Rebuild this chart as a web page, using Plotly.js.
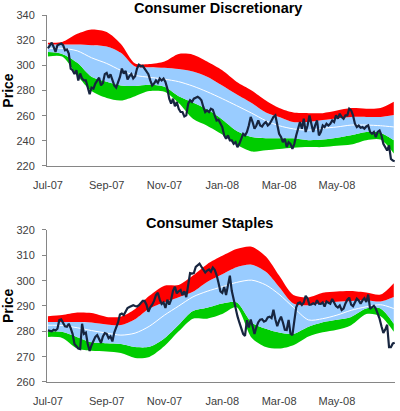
<!DOCTYPE html>
<html>
<head>
<meta charset="utf-8">
<script src="https://cdn.plot.ly/plotly-3.0.1.min.js"></script>
<style>html,body{margin:0;padding:0;background:#fff;}#chart{width:400px;height:411px;}</style>
</head>
<body>
<div id="chart"></div>
<script>
// ---- Data ----
const BAND_DATES = ['2007-07-01','2007-07-16','2007-08-01','2007-08-16','2007-09-01','2007-09-16','2007-10-01','2007-10-16','2007-11-01','2007-11-16','2007-12-01','2007-12-16','2008-01-01','2008-01-16','2008-02-01','2008-02-16','2008-03-01','2008-03-16','2008-04-01','2008-04-16','2008-05-01','2008-05-16','2008-06-01','2008-06-16','2008-06-30'];

const TICK_DATES = ['2007-07-01','2007-09-01','2007-11-01','2008-01-01','2008-03-01','2008-05-01'];
const TICK_LABELS = ['Jul-07','Sep-07','Nov-07','Jan-08','Mar-08','May-08'];

const PRICE_START = '2007-07-01';
const PRICE_STEP_DAYS = 2;

// Consumer Discretionary
const discUpperOuter = [318,318.5,325,328.5,326.5,317,301.5,301,303,309,308.5,303,296,287,280,272,266,262.5,262,262,264,266,265.5,266,271];
const discUpperInner = [316.5,316.5,316.5,316,315,310,299,298.5,298,297,295,291,284,277,270,262.5,259,255,255,256.5,258,259,259,259,260.5];
const discMiddle     = [313.5,313.5,311.5,306,301.5,296,292,290.5,289,287,283.5,279,273.5,268,262,256,252,249.5,248.5,250,251,252.5,252.5,252,251];
const discLowerInner = [310.5,309,302,291,287,284,283.5,284.5,283,275.5,270.5,265,257,248,243,242,242,242,240.5,241,242.5,244.5,247,246.5,240.5];
const discLowerOuter = [307,307,292,279.5,274,272,275.5,279.5,279,270,257.5,252,245,237,231.5,232.5,233.5,234.5,235,235,236,237,240.5,241,230];
const discPrice = [
313.4,316,318,314.7,310.7,316,316.9,317.4,316,312,
312.6,309.4,297.4,296.1,293,296.1,288,293.5,289.5,288,
288,281.5,277,282.3,281.5,285.5,288,290.2,284,286,
293,294,290,292.9,288.5,284,282.3,286,290.8,297.4,
293.5,295.6,288.7,291.3,293,289.5,291.3,297.4,300.5,299.3,
299.6,297.4,294.8,293,288,284,285.5,288,286,289.5,
288,289.5,286.8,281.5,273.5,269.5,273.5,267.4,270.9,265.5,
262.9,262.9,259.4,260.2,269.5,272.2,270.9,273.5,274.3,275,
274,272.2,266.9,262.9,264.2,262.9,265.5,264.7,260.2,256.2,
256.8,253.6,250.9,244.3,241.6,244.3,240.3,240.3,237.6,239,
235,237.6,241.6,245.6,244.3,247,252.2,259,254.9,249.6,
252.2,256.2,252.2,251.4,253.6,254.9,252.2,253.6,256.2,258.9,
260.2,253.6,245.6,243,239,241.6,235,239,237.6,233.6,
237.6,244.3,249.6,254.9,249.6,257.6,247,252.2,260.2,252.2,
247,252.2,256.2,244.3,247,252.2,250.9,253.6,252.2,253.6,
256.2,254.9,260.2,257.6,261.5,258.9,257.6,260.2,260.2,265.5,
264.2,260.2,253.6,250.9,252.2,250.4,250.9,249.6,251.4,252.2,
247,245.6,247,243,247,248.2,244.3,237.6,235,232.3,
236.3,225.6,224.3,223.8];

// Consumer Staples
const stapUpperOuter = [286,286.4,287.4,287.2,285.7,285.8,288.8,294,298,298.3,302,306.5,309.8,312.5,313.4,309.5,302,294.3,293.4,295.2,295.7,295.9,295.3,294.5,299];
const stapUpperInner = [283.7,283.7,283.7,283.5,282.7,282.5,284.8,289,291.5,293.5,295.6,299.5,302.5,305.3,306.3,303.5,297.5,291,290.3,291.3,291.7,292,292.3,291.8,293.6];
const stapMiddle     = [282.4,282.3,281.4,280.3,279.3,278.5,279.3,282,286.4,290,293.6,295.8,297.6,299.3,300.2,298.3,294.6,289.5,284.5,285,286.4,288.3,289.7,290.5,289];
const stapLowerInner = [280,279.8,277.7,275.7,275.3,275,273.8,273.9,277.3,282.6,288,289.3,291,291.5,283.5,281,279.5,279,281.8,283.6,284.6,285.7,289,289,283];
const stapLowerOuter = [277.8,277.4,273.2,272.3,272,271.4,269.5,269.9,274.2,280,285,285,286.8,289.5,277.5,273.8,273.2,274.5,278,279.6,280.6,282.4,286.8,286,279.8];
const stapPrice = [
280.4,280.2,280,280.6,280.3,281,284.4,284.7,283.3,282,
281.8,283,281.3,279,275,274,273.2,273,283,279,
279.5,275,272.3,274.5,276,277.8,278.5,276.8,275.4,278,
279.3,279,277.3,278,276,279.5,281.3,283.5,286.6,287,
286.4,288,289.2,289.6,290,290.3,290,289.8,290.3,291,
292,292,290.5,287.7,289.5,290.5,292,294.3,295.2,292.5,
290.8,291.4,289.2,292.5,290.5,292.5,296,297.6,295,295.8,
296.3,294.3,295.8,293.5,299,303,302.8,303,305.4,306,
306.7,305.5,304.2,303.2,304,304.4,303.5,305.2,304.3,302.2,
299.2,295.8,295.2,297.5,294.3,298.6,302,296,292.5,288.7,
286,283.5,281,279,278.2,284.4,281.5,284.7,282,279,
281.7,283.6,284.6,284.8,283.8,284.2,285.5,285.8,285.2,288.5,
284.8,282,284.2,285.8,283.5,280.6,280.5,284.5,279.1,278.5,
284,289.5,291.1,291.4,290.4,291.4,294,293,290.5,290.6,
291.1,290.6,292.3,290.9,290.8,291.4,289.8,291.8,291.3,290.9,
292.8,291.5,290,289.4,290.2,288.4,289,291,292.5,293.3,
290.5,289.9,291.4,292.9,292.2,290.9,292.2,293.1,291.6,294.5,
288.9,289.5,290.1,289,286.9,285,282,279.4,280.7,282.6,
273.8,273.8,275.2,275.5];

// ---- Styling ----
const RED = '#FF0000', BLUE = '#99CCFF', GREEN = '#00CC00', NAVY = '#17253F';
const DAY_MS = 86400000;

function bandTraces(xa, ya, lo2, lo1, mid, up1, up2, price) {
  const base = {x: BAND_DATES, xaxis: xa, yaxis: ya, mode: 'lines', hoverinfo: 'skip',
                line: {width: 0, shape: 'spline', smoothing: 0.8}};
  return [
    Object.assign({}, base, {y: lo2}),
    Object.assign({}, base, {y: lo1, fill: 'tonexty', fillcolor: GREEN}),
    Object.assign({}, base, {y: up1, fill: 'tonexty', fillcolor: BLUE}),
    Object.assign({}, base, {y: up2, fill: 'tonexty', fillcolor: RED}),
    {x: BAND_DATES, y: mid, xaxis: xa, yaxis: ya, mode: 'lines',
     line: {color: '#FFFFFF', width: 1, shape: 'spline', smoothing: 0.8}},
    {x0: PRICE_START, dx: PRICE_STEP_DAYS * DAY_MS, y: price, xaxis: xa, yaxis: ya, mode: 'lines',
     line: {color: NAVY, width: 2.2}}
  ];
}

const data = [].concat(
  bandTraces('x', 'y', discLowerOuter, discLowerInner, discMiddle, discUpperInner, discUpperOuter, discPrice),
  bandTraces('x2', 'y2', stapLowerOuter, stapLowerInner, stapMiddle, stapUpperInner, stapUpperOuter, stapPrice)
);

const X_RANGE = ['2007-06-30', '2008-07-01 07:00'];
const AXIS_LINE = '#868686';
const xCommon = {type: 'date', range: X_RANGE, tickvals: TICK_DATES, ticktext: TICK_LABELS,
  showgrid: false, zeroline: false, showline: true, linecolor: AXIS_LINE, linewidth: 1,
  ticks: 'outside', ticklen: 9, tickcolor: 'rgba(0,0,0,0)', fixedrange: true};
const yCommon = {showgrid: false, zeroline: false, showline: true, linecolor: AXIS_LINE, linewidth: 1,
  ticks: 'outside', ticklen: 4, tickcolor: AXIS_LINE, ticklabelstandoff: 5, fixedrange: true};

const TITLE_FONT = {family: 'Liberation Sans, Arial, sans-serif', size: 14.5, color: '#000000'};
const LABEL_FONT = {family: 'Liberation Sans, Arial, sans-serif', size: 14, color: '#000000'};

const layout = {
  width: 400, height: 411,
  margin: {l: 47, r: 5, t: 15, b: 29},
  paper_bgcolor: '#FFFFFF', plot_bgcolor: '#FFFFFF',
  showlegend: false,
  font: {family: 'Liberation Sans, Arial, sans-serif', size: 11, color: '#404040'},
  xaxis: Object.assign({}, xCommon, {anchor: 'y', domain: [0, 1]}),
  yaxis: Object.assign({}, yCommon, {anchor: 'x', domain: [0.5886, 1], range: [220, 340], dtick: 20}),
  xaxis2: Object.assign({}, xCommon, {anchor: 'y2', domain: [0, 1]}),
  yaxis2: Object.assign({}, yCommon, {anchor: 'x2', domain: [0, 0.4142], range: [260, 320], dtick: 10}),
  annotations: [
    {text: '<b>Consumer Discretionary</b>', xref: 'paper', yref: 'paper', x: 0.49, y: 1.018,
     xanchor: 'center', yanchor: 'middle', showarrow: false, font: TITLE_FONT},
    {text: '<b>Consumer Staples</b>', xref: 'paper', yref: 'paper', x: 0.467, y: 0.433,
     xanchor: 'center', yanchor: 'middle', showarrow: false, font: TITLE_FONT},
    {text: '<b>Price</b>', xref: 'paper', yref: 'paper', x: -0.112, y: 0.794, textangle: -90,
     xanchor: 'center', yanchor: 'middle', showarrow: false, font: LABEL_FONT},
    {text: '<b>Price</b>', xref: 'paper', yref: 'paper', x: -0.112, y: 0.207, textangle: -90,
     xanchor: 'center', yanchor: 'middle', showarrow: false, font: LABEL_FONT}
  ]
};

Plotly.newPlot('chart', data, layout, {displayModeBar: false, staticPlot: true});
</script>
</body>
</html>
